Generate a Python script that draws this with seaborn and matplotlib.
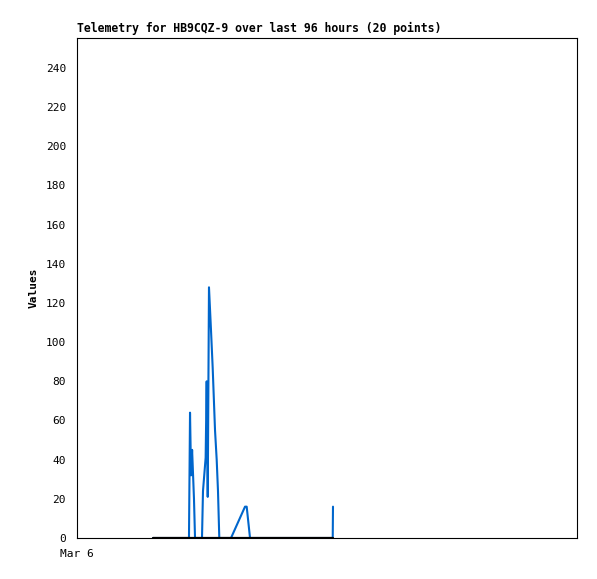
import matplotlib
matplotlib.use("Agg")
import matplotlib.pyplot as plt
import seaborn as sns
import pandas as pd

# hours since Mar 6 00:00
hours = [14.6, 21.5, 21.7, 21.9, 22.1, 22.46, 22.66, 24.0, 24.19, 24.7, 24.9, 25.1,
         25.34, 25.73, 26.05, 26.5, 26.82, 27.07, 27.32, 29.57, 32.26, 32.58, 33.22,
         49.1, 49.15]
values = [0, 0, 64, 32, 45, 20, 0, 0, 24, 41, 80, 21,
          128, 106, 87, 55, 40, 24, 0, 0, 16, 16, 0,
          0, 16]
base_hours = [14.6, 49.1]
base_values = [0, 0]

title = "Telemetry for HB9CQZ-9 over last 96 hours (20 points)"
ylabel = "Values"
xtick_pos = [0]
xtick_labels = ["Mar 6"]
ytick_vals = list(range(0, 241, 20))

sns.set_style("white")
plt.rcParams['font.family'] = ['DejaVu Sans Mono', 'DejaVu Sans']
plt.rcParams['text.color'] = 'black'
plt.rcParams['axes.labelcolor'] = 'black'
plt.rcParams['xtick.color'] = 'black'
plt.rcParams['ytick.color'] = 'black'

fig = plt.figure(figsize=(5.97, 5.79), dpi=100)
ax = fig.add_axes([77/597, 41/579, 500/597, 500/579])

df = pd.DataFrame({"h": hours, "v": values})
bdf = pd.DataFrame({"h": base_hours, "v": base_values})
sns.lineplot(data=df, x="h", y="v", sort=False, estimator=None, ax=ax,
             color="#0066cc", linewidth=1.5)
sns.lineplot(data=bdf, x="h", y="v", sort=False, estimator=None, ax=ax,
             color="black", linewidth=1.6)

ax.set_xlim(0, 96)
ax.set_ylim(0, 255.3)
ax.set_yticks(ytick_vals)
ax.set_yticklabels([str(v) for v in ytick_vals], fontsize=8)
ax.set_xticks(xtick_pos)
ax.set_xticklabels(xtick_labels, fontsize=8)
ax.tick_params(axis='both', direction='out', length=5, width=0.8, colors='black', pad=3)
for s in ax.spines.values():
    s.set_color('black')
    s.set_linewidth(0.8)
ax.set_xlabel("")
ax.set_ylabel(ylabel, fontsize=8, fontweight='bold', labelpad=5, color='black')
ax.set_title(title, fontsize=8.3, fontweight='bold', loc='left', pad=4, color='black')

fig.savefig("out.png", dpi=100)
